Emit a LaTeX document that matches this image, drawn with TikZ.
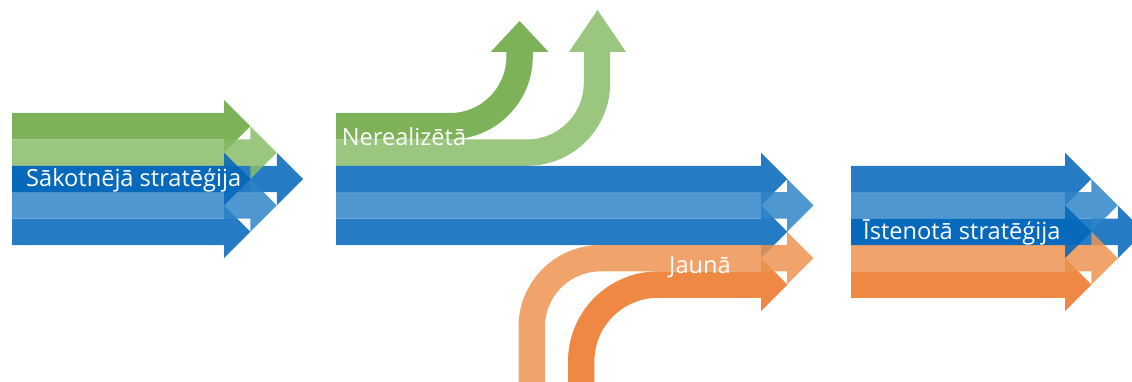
\documentclass[tikz,border=0pt]{standalone}
\usepackage{fontspec}
\setmainfont{Open Sans}
\definecolor{greenD}{RGB}{102,164,59}
\definecolor{greenL}{RGB}{136,188,106}
\definecolor{blueD}{RGB}{0,101,186}
\definecolor{blueL}{RGB}{47,133,200}
\definecolor{orangeD}{RGB}{235,115,33}
\definecolor{orangeL}{RGB}{237,148,82}

\begin{document}
\begin{tikzpicture}[x=1pt, y=-1pt,
        grp/.style={transparency group, opacity=0.85},
        band/.style={line width=26.4pt},
        lbl/.style={text=white, anchor=base west, inner sep=0pt, font=\fontsize{23.6pt}{28pt}\selectfont}]
        \def\bh{26.4}
        \def\hl{26.4}
        % straight block arrow: colour, x start, y centre, x of head base
        \def\arr#1#2#3#4{\begin{scope}[grp]
            \draw[band, #1] (#2,#3) -- (#4+1,#3);
            \fill[#1] (#4,#3-\bh) -- (#4+\hl,#3) -- (#4,#3+\bh) -- cycle;
        \end{scope}}
        \useasboundingbox (0,0) rectangle (1132,382);
        \clip (0,0) rectangle (1132,382);

        % left bundle
        \arr{greenD}{12}{126.2}{224}
        \arr{blueD}{12}{179}{276.8}
        \arr{blueD}{12}{231.8}{224}
        \arr{greenL}{12}{152.6}{250.4}
        \arr{blueL}{12}{205.4}{250.4}
        \arr{blueD}{12}{179}{224}
        \node[lbl] (orig) at (26,187) {Sākotnējā stratēģija};

        % middle bundle
        \begin{scope}[grp]
            \draw[band, greenD, rounded corners=69.6pt] (336,126.2) -| (519.6,51);
            \fill[greenD] (490.6,52) -- (519.6,21) -- (548.6,52) -- cycle;
        \end{scope}
        \begin{scope}[grp]
            \draw[band, greenL, rounded corners=69.8pt] (336,152.6) -| (597,51);
            \fill[greenL] (569,52) -- (597.5,10) -- (626,52) -- cycle;
        \end{scope}
        \arr{blueD}{336}{179}{761}
        \arr{blueD}{336}{231.8}{761}
        \begin{scope}[grp]
            \draw[band, orangeD, rounded corners=76.8pt] (581.2,390) |- (762,284.6);
            \fill[orangeD] (761,284.6-\bh) -- (761+\hl,284.6) -- (761,284.6+\bh) -- cycle;
        \end{scope}
        \arr{blueL}{336}{205.4}{787}
        \begin{scope}[grp]
            \draw[band, orangeL, rounded corners=68.8pt] (531.7,390) |- (788,258.2);
            \fill[orangeL] (787,258.2-\bh) -- (787+\hl,258.2) -- (787,258.2+\bh) -- cycle;
        \end{scope}
        \node[lbl] (unreal) at (341.7,146) {Nerealizētā};
        \node[lbl] (emerg) at (669,273) {Jaunā};

        % right bundle
        \arr{blueD}{851}{179}{1065}
        \arr{blueD}{851}{231.8}{1117.8}
        \arr{orangeD}{851}{284.6}{1065}
        \arr{blueL}{851}{205.4}{1091.4}
        \arr{orangeL}{851}{258.2}{1091.4}
        \arr{blueD}{851}{231.8}{1065}
        \node[lbl] (real) at (863,240) {Īstenotā stratēģija};
\end{tikzpicture}
\end{document}
